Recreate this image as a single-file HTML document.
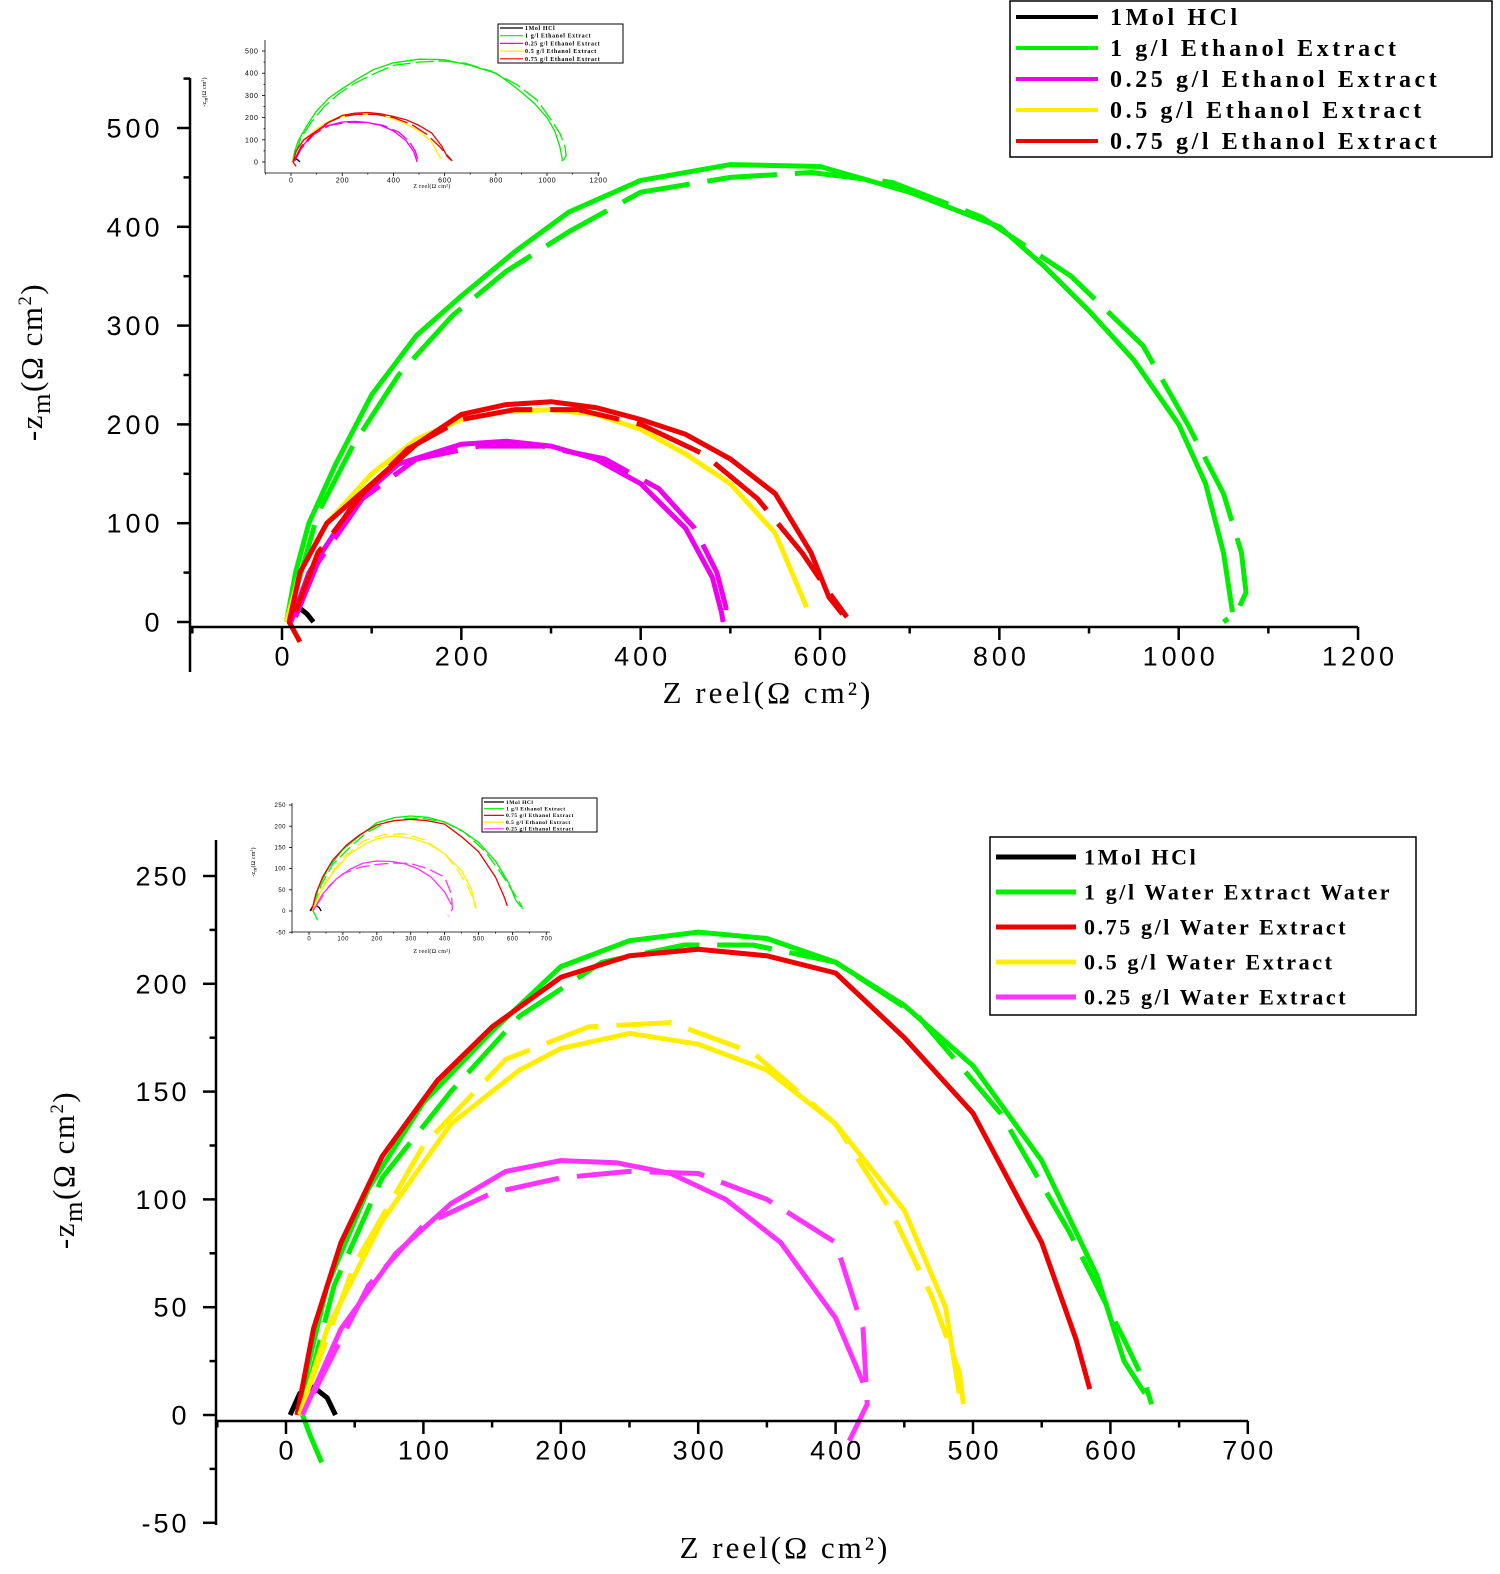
<!DOCTYPE html>
<html><head><meta charset="utf-8"><style>
body{margin:0;background:#fff}
svg{display:block}
.tk{font-family:"Liberation Sans",sans-serif;fill:#000}
.sf{font-family:"Liberation Serif",serif;fill:#000}
</style></head><body>
<svg id="fig" width="1500" height="1574" viewBox="0 0 1500 1574"></svg>
<script>
// ---- Top chart data (ethanol extract) ----
const topNames = ["1Mol HCl","1 g/l Ethanol Extract","0.25 g/l Ethanol Extract","0.5 g/l Ethanol Extract","0.75 g/l Ethanol Extract"];
const topColors = ["#000000","#00ee00","#ee00ee","#ffee00","#ee0000"];
const topHclX = [5,12,20,28,35];
const topHclY = [2,12,14,8,0];
const topGreenX = [5,15,30,60,100,150,200,260,320,400,500,600,700,800,850,900,950,1000,1030,1050,1060];
const topGreenY = [0,50,100,160,230,290,330,375,415,447,463,461,435,400,360,315,265,200,140,70,10];
const topGreenDX = [15,40,80,130,190,250,320,400,500,590,680,780,880,960,1010,1050,1070,1075,1065,1050];
const topGreenDY = [30,110,180,250,310,355,395,435,450,455,445,410,350,280,200,130,70,30,10,0];
const topMagX = [10,30,80,130,200,250,300,350,400,450,480,490,492];
const topMagY = [0,50,120,160,180,183,178,165,140,95,45,10,0];
const topMagDX = [15,40,90,150,220,290,360,420,460,485,495,493];
const topMagDY = [5,60,125,165,178,178,165,135,95,50,15,0];
const topYelX = [5,20,50,100,150,200,250,300,350,400,450,500,550,585];
const topYelY = [0,50,100,150,185,205,213,215,210,195,170,140,90,15];
const topRedX = [20,8,20,50,100,150,200,250,300,350,400,450,500,550,590,610,625];
const topRedY = [-20,0,50,100,140,180,210,220,223,217,205,190,165,130,70,25,8];
const topRedDX = [15,40,90,140,200,260,330,400,470,530,580,610,630];
const topRedDY = [10,70,130,175,205,215,215,200,170,125,70,30,5];
// ---- Bottom chart data (water extract) ----
const botNames = ["1Mol HCl","1 g/l Water Extract Water","0.75 g/l Water Extract","0.5 g/l Water Extract","0.25 g/l Water Extract"];
const botColors = ["#000000","#00ee00","#ee0000","#ffee00","#ff33ff"];
const botHclX = [3,10,20,30,36];
const botHclY = [0,10,13,8,0];
const botGreenX = [26,18,12,15,30,60,100,150,200,250,300,350,400,450,500,550,590,610,625];
const botGreenY = [-22,-10,0,20,60,105,145,178,208,220,224,221,210,190,162,118,65,25,10];
const botGreenDX = [15,35,70,120,170,230,290,340,400,460,520,570,610,625,630];
const botGreenDY = [10,60,110,150,185,210,218,218,210,185,140,85,35,15,5];
const botRedX = [8,20,40,70,110,150,200,250,300,350,400,450,500,550,575,585];
const botRedY = [0,40,80,120,155,180,203,213,216,213,205,175,140,80,35,12];
const botYelX = [10,30,70,120,170,200,250,300,350,400,450,480,490];
const botYelY = [0,40,90,135,160,170,177,172,160,135,95,50,10];
const botYelDX = [15,50,100,160,220,280,340,400,440,470,490,493];
const botYelDY = [10,70,125,165,180,182,168,135,95,55,20,5];
const botMagX = [12,40,80,120,160,200,240,280,320,360,400,420];
const botMagY = [0,40,75,98,113,118,117,112,100,80,45,15];
const botMagDX = [20,60,100,150,200,250,300,350,400,420,423,410];
const botMagDY = [10,60,88,103,110,113,112,100,80,40,5,-12];

const NS="http://www.w3.org/2000/svg";
const svg=document.getElementById('fig');
function el(tag,attrs,parent,txt){const e=document.createElementNS(NS,tag);for(const k in attrs)e.setAttribute(k,attrs[k]);if(txt!==undefined)e.textContent=txt;(parent||svg).appendChild(e);return e;}

function drawChart(c){
  const g=el('g',{});
  
  
  const sx=v=>c.x0+(v-c.xa)*c.kx, sy=v=>c.y0-(v-c.ya)*c.ky;
  c.series.forEach(s=>{
    const pts=s.x.map((v,i)=>sx(v).toFixed(1)+','+sy(s.y[i]).toFixed(1)).join(' ');
    const p=el('polyline',{points:pts,fill:'none',stroke:s.color,'stroke-width':c.lw,'stroke-linejoin':'round','stroke-dasharray':s.dash?c.dash:'none'},g);
    
    
  });
  const ax=el('g',{stroke:'#000','stroke-width':c.aw},g);
  
  
  el('line',{x1:c.axX,y1:c.yTop,x2:c.axX,y2:c.yBot},ax);
  el('line',{x1:c.axX,y1:c.axY,x2:c.xRight,y2:c.axY},ax);
  c.yTicks.forEach((t,i)=>{const y=sy(t);el('line',{x1:c.axX-c.tl,y1:y,x2:c.axX,y2:y},ax);
    if(c.yMinor){const ym=sy(t+c.yStep/2);if(ym>c.yTop)el('line',{x1:c.axX-c.tl/2,y1:ym,x2:c.axX,y2:ym},ax);}
    const lb=el('text',{x:c.axX-c.tl-c.fs*0.5,y:y+c.fs*0.35,'text-anchor':'end','font-size':c.fs,'letter-spacing':c.tls,class:'tk',stroke:'none'},g,String(t));
    });
  c.xTicks.forEach(t=>{const x=sx(t);el('line',{x1:x,y1:c.axY,x2:x,y2:c.axY+c.tl},ax);
    const xm=sx(t+c.xStep/2);if(xm<c.xRight)el('line',{x1:xm,y1:c.axY,x2:xm,y2:c.axY+c.tl/2},ax);
    const xm2=sx(t-c.xStep/2);if(xm2>c.axX&&t===c.xTicks[0])el('line',{x1:xm2,y1:c.axY,x2:xm2,y2:c.axY+c.tl/2},ax);
    const lb=el('text',{x:x+c.tls/2,y:c.axY+c.tl+c.fs*0.95,'text-anchor':'middle','font-size':c.fs,'letter-spacing':c.tls,class:'tk',stroke:'none'},g,String(t));
    });
  const xt=el('text',{x:c.xtX,y:c.xtY,'text-anchor':'middle','font-size':c.tfs,'letter-spacing':c.als,class:'sf'},g,'Z reel(Ω cm²)');
  
  const yt=el('text',{transform:`translate(${c.ytX},${c.ytY}) rotate(-90)`,'text-anchor':'middle','font-size':c.tfs,'letter-spacing':c.als*0.5,class:'sf'},g);
  
  el('tspan',{},yt,'-z');el('tspan',{dy:c.tfs*0.25,'font-size':c.tfs*0.85},yt,'m');el('tspan',{dy:-c.tfs*0.25},yt,'(Ω cm');el('tspan',{dy:-c.tfs*0.35,'font-size':c.tfs*0.6},yt,'2');el('tspan',{dy:c.tfs*0.35},yt,')');
  const L=c.leg;
  const lg=el('g',{},g);
  
  el('rect',{x:L.x,y:L.y,width:L.w,height:L.h,fill:'#fff',stroke:'#000','stroke-width':Math.max(1,c.aw*0.6)},lg);
  L.names.forEach((n,i)=>{const y=L.y+L.first+i*L.gap;
    const le=el('g',{},lg);
    el('line',{x1:L.x+L.l0,y1:y,x2:L.x+L.l1,y2:y,stroke:L.colors[i],'stroke-width':L.lw},le);
    el('text',{x:L.x+L.tx,y:y+L.fs*0.33,'font-size':L.fs,'font-weight':'bold','letter-spacing':L.ls,class:'sf'},le,n);});
}

function topSeries(){return [
 {name:'hcl',color:topColors[0],x:topHclX,y:topHclY},
 {name:'green-1gl',color:topColors[1],x:topGreenX,y:topGreenY},
 {name:'green-1gl-fit',color:topColors[1],x:topGreenDX,y:topGreenDY,dash:1},
 {name:'magenta-025',color:topColors[2],x:topMagX,y:topMagY},
 {name:'magenta-025-fit',color:topColors[2],x:topMagDX,y:topMagDY,dash:1},
 {name:'yellow-05',color:topColors[3],x:topYelX,y:topYelY},
 {name:'red-075',color:topColors[4],x:topRedX,y:topRedY},
 {name:'red-075-fit',color:topColors[4],x:topRedDX,y:topRedDY,dash:1}];}
function botSeries(){return [
 {name:'hcl',color:botColors[0],x:botHclX,y:botHclY},
 {name:'green-1gl',color:botColors[1],x:botGreenX,y:botGreenY},
 {name:'green-1gl-fit',color:botColors[1],x:botGreenDX,y:botGreenDY,dash:1},
 {name:'red-075',color:botColors[2],x:botRedX,y:botRedY},
 {name:'yellow-05',color:botColors[3],x:botYelX,y:botYelY},
 {name:'yellow-05-fit',color:botColors[3],x:botYelDX,y:botYelDY,dash:1},
 {name:'magenta-025',color:botColors[4],x:botMagX,y:botMagY},
 {name:'magenta-025-fit',color:botColors[4],x:botMagDX,y:botMagDY,dash:1}];}

drawChart({name:'top-chart',x0:282,xa:0,kx:0.8967,y0:622,ya:0,ky:0.988,axX:190,axY:627,yTop:78,yBot:672,xRight:1358,
 yTicks:[0,100,200,300,400,500],yStep:100,yMinor:1,xTicks:[0,200,400,600,800,1000,1200],xStep:200,tl:13,fs:27,tls:4,aw:2.5,lw:5,dash:'70 18',
 tfs:31,als:3,xtX:768,xtY:703,ytX:42,ytY:362,series:topSeries(),
 leg:{x:1010,y:1,w:482,h:156,first:16,gap:31,l0:6,l1:88,tx:100,fs:24,ls:3.6,lw:4,names:topNames,colors:topColors}});
drawChart({name:'top-inset',x0:291,xa:0,kx:0.256,y0:162,ya:0,ky:0.222,axX:265,axY:173,yTop:40,yBot:173,xRight:600,
 yTicks:[0,100,200,300,400,500],yStep:100,yMinor:1,xTicks:[0,200,400,600,800,1000,1200],xStep:200,tl:3,fs:7,tls:0.6,aw:0.8,lw:1.3,dash:'18 5',
 tfs:6,als:0.3,xtX:432,xtY:188,ytX:206,ytY:92,series:topSeries(),
 leg:{x:498,y:24,w:125,h:39,first:4,gap:7.7,l0:2,l1:25,tx:27,fs:6,ls:0.6,lw:1.2,names:topNames,colors:topColors}});
drawChart({name:'bottom-chart',x0:286,xa:0,kx:1.374,y0:1415,ya:0,ky:2.156,axX:216,axY:1421,yTop:840,yBot:1525,xRight:1248,
 yTicks:[-50,0,50,100,150,200,250],yStep:50,yMinor:1,xTicks:[0,100,200,300,400,500,600,700],xStep:100,tl:13,fs:27,tls:3,aw:2.5,lw:5,dash:'55 18',
 tfs:31,als:3,xtX:785,xtY:1558,ytX:74,ytY:1170,series:botSeries(),
 leg:{x:990,y:837,w:426,h:178,first:20,gap:35,l0:6,l1:86,tx:94,fs:22,ls:2.6,lw:5,names:botNames,colors:botColors}});
drawChart({name:'bottom-inset',x0:309,xa:0,kx:0.339,y0:911,ya:0,ky:0.424,axX:292,axY:932,yTop:803,yBot:932,xRight:550,
 yTicks:[-50,0,50,100,150,200,250],yStep:50,yMinor:0,xTicks:[0,100,200,300,400,500,600,700],xStep:100,tl:3,fs:6,tls:0.5,aw:0.8,lw:1.3,dash:'14 5',
 tfs:6,als:0.3,xtX:432,xtY:953,ytX:255,ytY:862,series:botSeries(),
 leg:{x:482,y:798,w:115,h:34,first:4,gap:6.7,l0:2,l1:22,tx:24,fs:5.5,ls:0.5,lw:1.2,names:["1Mol HCl","1 g/l Ethanol Extract","0.75 g/l Ethanol Extract","0.5 g/l Ethanol Extract","0.25 g/l Ethanol Extract"],colors:botColors}});
</script>
</body></html>
